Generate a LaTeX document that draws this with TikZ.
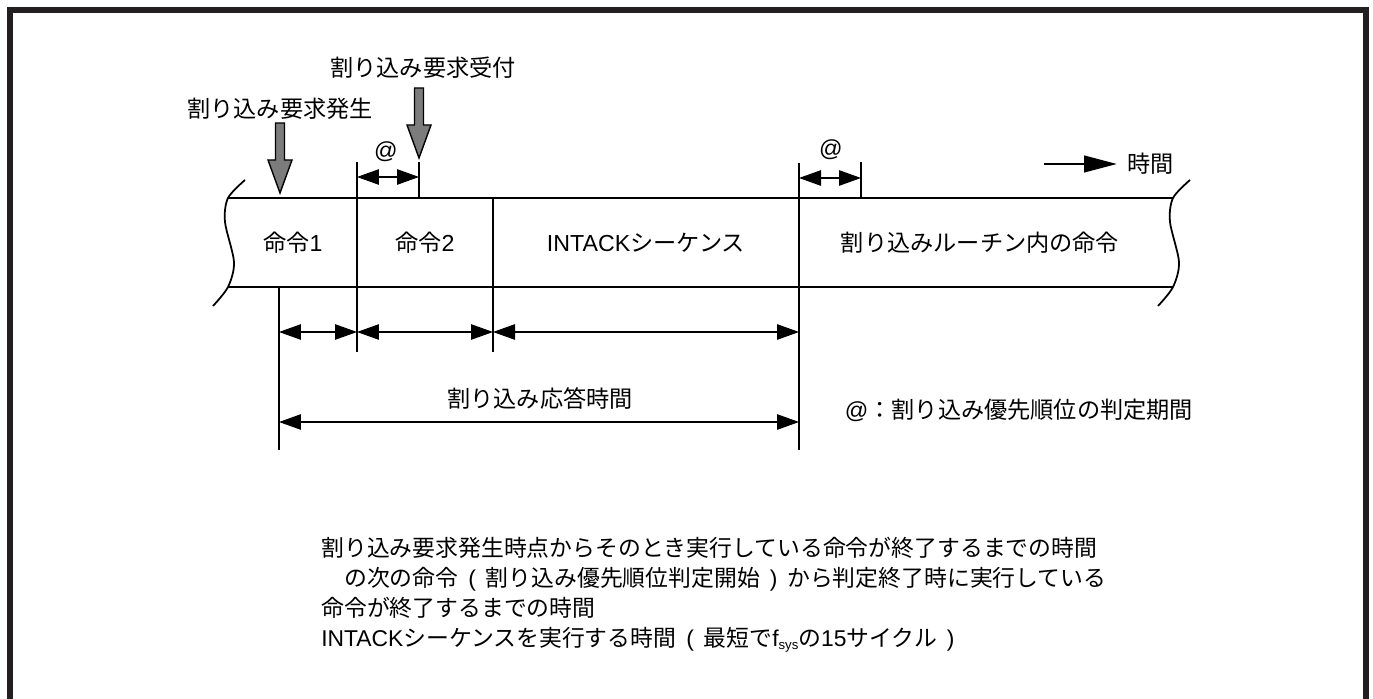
\documentclass[tikz,border=0pt]{standalone}
\usepackage{fontspec}
\setmainfont{Noto Sans CJK JP}
\newfontfamily\lat{Liberation Sans}
\usetikzlibrary{positioning,arrows.meta}
\definecolor{framecol}{HTML}{231F20}
\definecolor{reqgray}{HTML}{7C7C7C}
\newcommand{\lpar}{\makebox[1.2em]{\lat(}}
\newcommand{\rpar}{\makebox[1.2em]{\lat)}}
\tikzset{
  txt/.style={inner sep=0pt,font=\fontsize{13.2}{17}\selectfont},
  notetxt/.style={inner sep=0pt,align=left,font=\fontsize{13}{17.1}\selectfont},
  band/.style={line width=1.1pt},
  cut/.style={line width=1pt},
  divline/.style={line width=0.9pt},
  extline/.style={line width=0.6pt},
  dim/.style={line width=0.6pt,{Triangle[length=0.44cm,width=0.31cm]}-{Triangle[length=0.44cm,width=0.31cm]}},
  reqarrow/.style={draw=black,line width=0.8pt,fill=reqgray,line join=miter},
  timearr/.style={line width=1.6pt,-{Triangle[length=0.66cm,width=0.33cm]}}
}

\begin{document}
\begin{tikzpicture}[x=0.02cm,y=-0.02cm]
\useasboundingbox (0,0) rectangle (1373,699);
\draw[line width=3.4pt,framecol] (10,10) rectangle (1366,706);
% instruction band
\draw[band] (228,198) -- (1173,198);
\draw[band] (228,287) -- (1173,287);
\foreach \xe in {228,1173}
  \draw[cut] plot[smooth] coordinates {(\xe+17,180) (\xe,198) (\xe-3,222) (\xe+6,262) (\xe,287) (\xe-15,306)};
\foreach \x in {357,493,799} {\draw[divline] (\x,198) -- (\x,287);}
% extension lines
\draw[extline] (799,163) -- (799,198) (799,287) -- (799,450);
\draw[extline] (279,287) -- (279,450);
\foreach \x in {357,493} {\draw[extline] (\x,287) -- (\x,352);}
\foreach \x in {357,419,861} {\draw[extline] (\x,162) -- (\x,198);}
% cells
\node[txt] (cmd1) at (293,243) {命令{\lat 1}};
\node[txt] (cmd2) at (425,243) {命令{\lat 2}};
\node[txt] (intack) at (646,243) {{\lat INTACK}シーケンス};
\node[txt] (isr) at (980,243) {割り込みルーチン内の命令};
% request / acceptance
\foreach \ax/\ay in {280/123,419/88}
  \draw[reqarrow] (\ax-4.5,\ay) -- (\ax+4.5,\ay) -- (\ax+4.5,\ay+37) -- (\ax+12,\ay+37)
    -- (\ax,\ay+70) -- (\ax-12,\ay+37) -- (\ax-4.5,\ay+37) -- cycle;
\node[txt] (reqlbl) at (280,109) {割り込み要求発生};
\node[txt] (acklbl) at (423,68) {割り込み要求受付};
% judgement periods
\coordinate (ja1) at (357,177);
\coordinate (jb1) at (419,177);
\coordinate (ja2) at (799,178);
\coordinate (jb2) at (861,178);
\draw[dim] (ja1) -- (jb1);
\draw[dim] (ja2) -- (jb2);
\node[txt] (at1) at (386,152) {\lat @};
\node[txt] (at2) at (831,150) {\lat @};
% time axis
\coordinate (tst) at (1044,164);
\node[txt,anchor=west] (tlbl) at (1127,164) {時間};
\draw[timearr] (tst) -- ([xshift=-0.2cm]tlbl.west);
% response time
\foreach \n/\x in {a/279,b/357,c/493,d/799} {\coordinate (r\n) at (\x,332);}
\coordinate (sa) at (279,422);
\coordinate (sd) at (799,422);
\draw[dim] (ra) -- (rb);
\draw[dim] (rb) -- (rc);
\draw[dim] (rc) -- (rd);
\draw[dim] (sa) -- (sd);
\node[txt] (resp) at (540,399) {割り込み応答時間};
\node[txt] (legend) at (1019,410) {{\lat @}：割り込み優先順位の判定期間};
% notes
\node[notetxt,anchor=north west] (notes) at (321,537) {割り込み要求発生時点からそのとき実行している命令が終了するまでの時間\\
\hspace*{1em}の次の命令\lpar 割り込み優先順位判定開始\rpar から判定終了時に実行している\\
命令が終了するまでの時間\\
{\lat INTACK}シーケンスを実行する時間\lpar 最短で{\lat f\raisebox{-0.2ex}{\fontsize{7.5}{8}\selectfont sys}}の{\lat 15}サイクル\rpar};
\end{tikzpicture}
\end{document}
